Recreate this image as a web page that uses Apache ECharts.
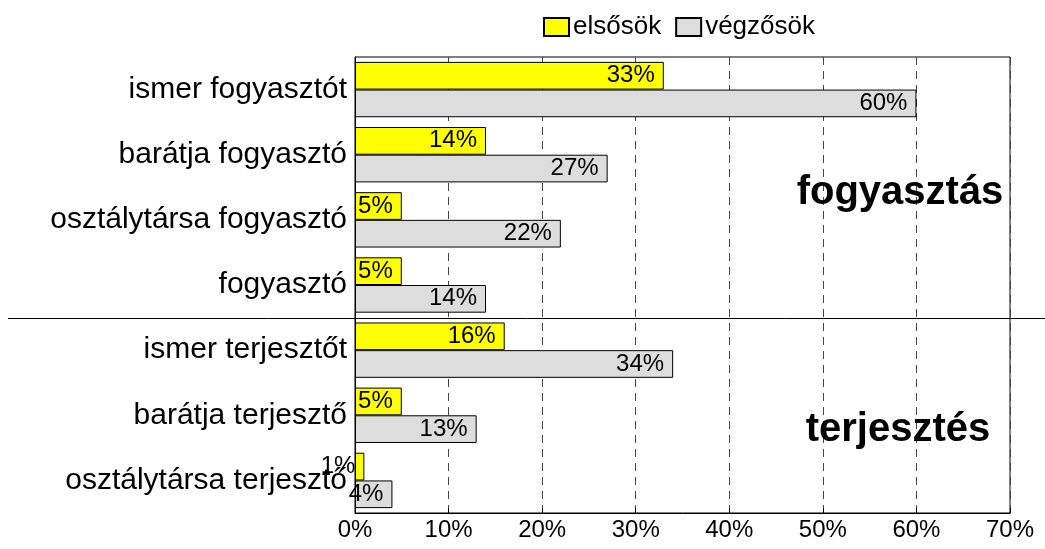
<!DOCTYPE html>
<html>
<head>
<meta charset="utf-8">
<script src="https://cdn.jsdelivr.net/npm/echarts@6/dist/echarts.min.js"></script>
<style>
  html, body { margin: 0; padding: 0; background: #fff; }
  #chart { width: 1045px; height: 549px; }
</style>
</head>
<body>
<div id="chart"></div>
<script>
const categories = [
  'ismer fogyasztót',
  'barátja fogyasztó',
  'osztálytársa fogyasztó',
  'fogyasztó',
  'ismer terjesztőt',
  'barátja terjesztő',
  'osztálytársa terjesztő'
]
const elsosok = [33, 14, 5, 5, 16, 5, 1]
const vegzosok = [60, 27, 22, 14, 34, 13, 4]
const xTicks = [0, 10, 20, 30, 40, 50, 60, 70]

const font = 'Liberation Sans, Arial, sans-serif'
const gridTop = 57
const gridBottom = 36
const chartHeight = 549
// the line falls between the two groups (after the 4th category)
const splitAfter = 4
const plotH = chartHeight - gridTop - gridBottom
const sepY = Math.round(gridTop + plotH * splitAfter / categories.length) + 0.5

const chart = echarts.init(document.getElementById('chart'))

const barLabel = {
  show: true,
  position: 'insideRight',
  distance: 9,
  formatter: '{c}%',
  color: '#000',
  fontSize: 24,
  fontFamily: font
}

chart.setOption({
  animation: false,
  textStyle: { fontFamily: font },
  legend: {
    top: 14,
    left: 543,
    padding: 0,
    icon: 'rect',
    itemWidth: 25,
    itemHeight: 18,
    itemGap: 14,
    textStyle: { fontSize: 26, color: '#000', fontFamily: font, padding: [0, 0, 0, -1] },
    data: ['elsősök', 'végzősök']
  },
  grid: {
    left: 355,
    right: 35,
    top: gridTop,
    bottom: gridBottom,
    show: true,
    borderColor: '#000',
    borderWidth: 1
  },
  xAxis: {
    type: 'value',
    min: xTicks[0],
    max: xTicks[xTicks.length - 1],
    interval: 10,
    axisLine: { show: true, lineStyle: { color: '#000' } },
    axisTick: { show: true, inside: true, length: 5, lineStyle: { color: '#000' } },
    axisLabel: {
      formatter: '{value}%',
      color: '#000',
      fontSize: 24,
      fontFamily: font,
      margin: 5
    },
    splitLine: {
      show: true,
      lineStyle: { color: '#444', type: [8, 6], width: 1 }
    }
  },
  yAxis: {
    type: 'category',
    inverse: true,
    data: categories,
    axisLine: { show: true, lineStyle: { color: '#000' } },
    axisTick: { show: false },
    axisLabel: { color: '#000', fontSize: 30, fontFamily: font, margin: 8 }
  },
  series: [
    {
      name: 'elsősök',
      type: 'bar',
      data: elsosok,
      barGap: '0%',
      barCategoryGap: '15%',
      itemStyle: { color: '#ffff00', borderColor: '#000', borderWidth: 1 },
      label: barLabel
    },
    {
      name: 'végzősök',
      type: 'bar',
      data: vegzosok,
      barGap: '0%',
      barCategoryGap: '15%',
      itemStyle: { color: '#dddddd', borderColor: '#000', borderWidth: 1 },
      label: barLabel
    }
  ],
  graphic: [
    {
      type: 'line',
      shape: { x1: 8, y1: sepY, x2: 1045, y2: sepY },
      style: { stroke: '#000', lineWidth: 1 },
      z: 100
    },
    {
      type: 'text',
      x: 900,
      y: 193,
      style: {
        text: 'fogyasztás',
        fill: '#000',
        font: 'bold 40px ' + font,
        textAlign: 'center',
        textVerticalAlign: 'middle'
      },
      z: 100
    },
    {
      type: 'text',
      x: 898,
      y: 430,
      style: {
        text: 'terjesztés',
        fill: '#000',
        font: 'bold 40px ' + font,
        textAlign: 'center',
        textVerticalAlign: 'middle'
      },
      z: 100
    }
  ]
})
</script>
</body>
</html>
